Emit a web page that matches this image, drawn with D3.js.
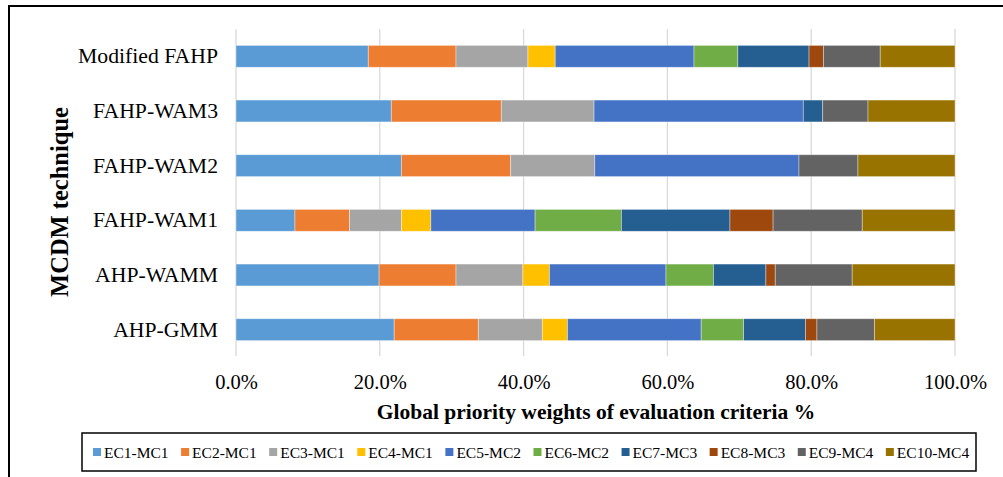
<!DOCTYPE html>
<html>
<head>
<meta charset="utf-8">
<script src="https://cdn.jsdelivr.net/npm/d3@7"></script>
<style>
  body { margin: 0; background: #fff; }
  svg text { font-family: "Liberation Serif", "Times New Roman", serif; fill: #000; }
</style>
</head>
<body>
<div id="chart"></div>
<script>
// Techniques, top to bottom as drawn
const techniques = ['Modified FAHP', 'FAHP-WAM3', 'FAHP-WAM2', 'FAHP-WAM1', 'AHP-WAMM', 'AHP-GMM'];
const criteria = ['EC1-MC1', 'EC2-MC1', 'EC3-MC1', 'EC4-MC1', 'EC5-MC2', 'EC6-MC2', 'EC7-MC3', 'EC8-MC3', 'EC9-MC4', 'EC10-MC4'];
const colors = ['#5B9BD5', '#ED7D31', '#A5A5A5', '#FFC000', '#4472C4', '#70AD47', '#255E91', '#9E480E', '#636363', '#997300'];

// weights (%) per technique, in criteria order
const modifiedFahp = [18.4, 12.2, 10.0, 3.8, 19.3, 6.1, 9.9, 2.0, 7.9, 10.4];
const fahpWam3 = [21.6, 15.3, 12.9, 0, 29.1, 0, 2.7, 0, 6.3, 12.1];
const fahpWam2 = [23.0, 15.2, 11.7, 0, 28.4, 0, 0, 0, 8.2, 13.5];
const fahpWam1 = [8.2, 7.6, 7.2, 4.1, 14.5, 12.0, 15.1, 6.0, 12.4, 12.9];
const ahpWamm = [19.9, 10.7, 9.3, 3.7, 16.2, 6.6, 7.3, 1.3, 10.7, 14.3];
const ahpGmm = [22.0, 11.7, 8.9, 3.5, 18.6, 5.9, 8.6, 1.6, 8.0, 11.2];

const xTicks = [0, 20, 40, 60, 80, 100];

const seriesByTech = [modifiedFahp, fahpWam3, fahpWam2, fahpWam1, ahpWamm, ahpGmm];
const rows = techniques.map((t, i) => {
  const row = {technique: t};
  criteria.forEach((c, j) => row[c] = seriesByTech[i][j]);
  return row;
});

const width = 1003, height = 477;
const margin = {top: 29, left: 236, right: 48, bottom: 119};

const svg = d3.select('#chart').append('svg')
    .attr('width', width)
    .attr('height', height);

// outer frame (clipped on right/bottom like the reference)
svg.append('rect')
    .attr('x', 9).attr('y', 6)
    .attr('width', 1010).attr('height', 500)
    .attr('fill', 'none')
    .attr('stroke', '#000')
    .attr('stroke-width', 2);

const xScale = d3.scaleLinear()
    .domain([0, 100])
    .range([margin.left, margin.left + 719]);

const yScale = d3.scaleBand()
    .domain(techniques)
    .range([margin.top, height - margin.bottom - 1])
    .paddingInner(0.6)
    .paddingOuter(0.3);

// gridlines
svg.append('g')
    .selectAll('line')
    .data(xTicks)
  .join('line')
    .attr('x1', d => xScale(d)).attr('x2', d => xScale(d))
    .attr('y1', margin.top).attr('y2', 356)
    .attr('stroke', '#D9D9D9')
    .attr('stroke-width', 1.3);

// tick labels
const xAxis = d3.axisBottom(xScale)
    .tickValues(xTicks)
    .tickSize(0)
    .tickPadding(0)
    .tickFormat(d => d.toFixed(1) + '%');

const xAxisG = svg.append('g')
    .attr('transform', 'translate(0,374)')
    .call(xAxis);
xAxisG.select('.domain').remove();
xAxisG.selectAll('text')
    .attr('dy', '0.71em')
    .style('font-size', '20.5px')
    .style('font-family', '"Liberation Serif", serif');

// category labels
const yAxis = d3.axisLeft(yScale).tickSize(0).tickPadding(18);
const yAxisG = svg.append('g')
    .attr('transform', `translate(${margin.left},0)`)
    .call(yAxis);
yAxisG.select('.domain').remove();
yAxisG.selectAll('text')
    .style('font-size', '21.7px')
    .style('font-family', '"Liberation Serif", serif');

// stacked bars
const stack = d3.stack().keys(criteria);
const stacked = stack(rows);

svg.append('g')
    .selectAll('g')
    .data(stacked)
  .join('g')
    .attr('fill', (d, i) => colors[i])
    .selectAll('rect')
    .data(d => d)
  .join('rect')
    .attr('x', d => xScale(d[0]))
    .attr('y', d => yScale(d.data.technique))
    .attr('width', d => xScale(d[1]) - xScale(d[0]))
    .attr('height', yScale.bandwidth())
    .attr('stroke', '#fff')
    .attr('stroke-opacity', 0.45)
    .attr('stroke-width', d => d[1] - d[0] > 0 ? 0.8 : 0);

// axis titles
svg.append('text')
    .attr('x', 596)
    .attr('y', 419)
    .attr('text-anchor', 'middle')
    .style('font-size', '21.5px')
    .style('font-weight', 'bold')
    .text('Global priority weights of evaluation criteria %');

svg.append('text')
    .attr('transform', 'translate(68,202) rotate(-90)')
    .attr('text-anchor', 'middle')
    .style('font-size', '24.5px')
    .style('font-weight', 'bold')
    .text('MCDM technique');

// legend
const legendG = svg.append('g');
legendG.append('rect')
    .attr('x', 82).attr('y', 433)
    .attr('width', 894).attr('height', 38)
    .attr('fill', '#fff')
    .attr('stroke', '#000')
    .attr('stroke-width', 1.5);

let lx = 93;
criteria.forEach((c, i) => {
  legendG.append('rect')
      .attr('x', lx).attr('y', 448)
      .attr('width', 8).attr('height', 8)
      .attr('fill', colors[i]);
  const t = legendG.append('text')
      .attr('x', lx + 11)
      .attr('y', 457.5)
      .style('font-size', '15.5px')
      .text(c);
  lx += 11 + t.node().getComputedTextLength() + 12.5;
});
</script>
</body>
</html>
